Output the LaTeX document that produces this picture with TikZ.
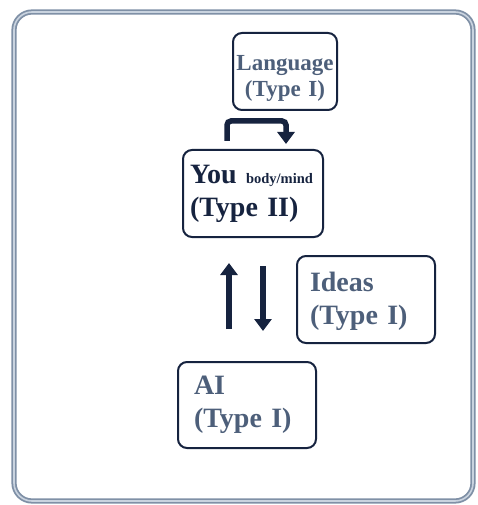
\documentclass[tikz,border=0pt]{standalone}
\usepackage{fontspec}
\setmainfont{Liberation Serif}
\usetikzlibrary{arrows.meta}
\definecolor{navy}{HTML}{16233F}
\definecolor{slate}{HTML}{4D5F7A}
\definecolor{framec}{HTML}{7F90A6}
\definecolor{framein}{HTML}{C9D3DF}
\tikzset{
  box/.style={draw=navy, line width=2pt, rounded corners=9pt, align=left, inner ysep=0pt, anchor=center},
  fatarrow/.style={draw=navy, line width=5.5pt, -{Triangle[width=17pt,length=12pt]}},
}
\begin{document}
\begin{tikzpicture}[x=1pt,y=-1pt]
\useasboundingbox[fill=white] (0,0) rectangle (477,505);
% outer frame
\draw[draw=framec, line width=1.8pt, double=framein, double distance=1.6pt, rounded corners=18pt] (14,12) rectangle (473,501);
% boxes
\node[box, text=slate, inner xsep=2pt, text width=100pt, minimum height=77pt, align=center, font=\fontsize{23}{26}\selectfont\bfseries] (lang) at (285,71.5) {\rule{0pt}{28pt}Language\\(Type I)};
\node[box, text=navy, inner xsep=7pt, text width=126pt, minimum height=87pt, font=\fontsize{28}{33}\selectfont\bfseries] (you) at (253,193.5) {You {\fontsize{14.5}{16}\selectfont body/mind}\\(Type II)};
\node[box, text=slate, inner xsep=13pt, text width=112pt, minimum height=87pt, font=\fontsize{28}{33}\selectfont\bfseries] (ideas) at (366,299.5) {\rule{0pt}{24pt}Ideas\\(Type I)};
\node[box, text=slate, inner xsep=16pt, text width=106pt, minimum height=86pt, font=\fontsize{28}{33}\selectfont\bfseries] (ai) at (247,405) {AI\\(Type I)};
% elbow arrow You -> Language
\coordinate (e1) at ([xshift=-26pt,yshift=8pt]you.north);
\coordinate (e2) at ([xshift=33pt,yshift=5pt]you.north);
\draw[fatarrow, rounded corners=4pt] (e1) -- ++(0,-20) -| (e2);
% up arrow AI -> You
\coordinate (u1) at ([xshift=-18pt,yshift=32pt]ai.north);
\coordinate (u2) at ([yshift=-25pt]you.south);
\draw[fatarrow] (u1) -- (u1 |- u2);
% down arrow You -> AI
\coordinate (d1) at ([xshift=10pt,yshift=-28pt]you.south);
\coordinate (d2) at ([yshift=30pt]ai.north);
\draw[fatarrow] (d1) -- (d1 |- d2);
\end{tikzpicture}
\end{document}
